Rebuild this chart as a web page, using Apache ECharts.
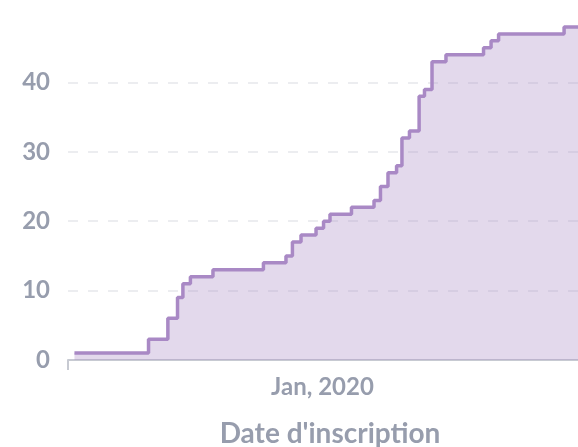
<!DOCTYPE html>
<html>
<head>
<meta charset="utf-8">
<script src="https://cdn.jsdelivr.net/npm/echarts@6/dist/echarts.min.js"></script>
<style>
  html, body { margin: 0; padding: 0; background: #fff; }
  #chart { width: 578px; height: 447px; }
</style>
</head>
<body>
<div id="chart"></div>
<script>
  // dates where the cumulative count changes, and the count reached on that date
  const dates = [
    '2019-05-15', '2019-07-23', '2019-08-10', '2019-08-19', '2019-08-24', '2019-08-31',
    '2019-09-21', '2019-11-07', '2019-11-28', '2019-12-04', '2019-12-12', '2019-12-26',
    '2020-01-02', '2020-01-08', '2020-01-28', '2020-02-18', '2020-02-24', '2020-03-02',
    '2020-03-10', '2020-03-15', '2020-03-22', '2020-03-31', '2020-04-05', '2020-04-12',
    '2020-04-25', '2020-05-30', '2020-06-06', '2020-06-13', '2020-08-13', '2020-09-08'
  ];
  const counts = [
    1, 3, 6, 9, 11, 12,
    13, 14, 15, 17, 18, 19,
    20, 21, 22, 23, 25, 27,
    28, 32, 33, 38, 39, 43,
    44, 45, 46, 47, 48, 48
  ];
  const yTicks = [0, 10, 20, 30, 40];
  const xAxisName = "Date d'inscription";

  const textColor = '#979DAD';
  const lineColor = '#A989C5';

  const chart = echarts.init(document.getElementById('chart'));

  chart.setOption({
    animation: false,
    textStyle: { fontFamily: 'Lato' },
    grid: {
      left: 68,
      right: -14,
      top: 20,
      bottom: 87,
      outerBoundsMode: 'none'
    },
    xAxis: [{
      type: 'time',
      min: '2019-05-09',
      max: '2020-09-08',
      name: xAxisName,
      nameLocation: 'middle',
      nameGap: 60,
      nameTextStyle: {
        fontFamily: 'Lato',
        fontSize: 28,
        fontWeight: 'bold',
        color: textColor
      },
      axisLine: {
        lineStyle: { color: '#C7CAD2', width: 2 }
      },
      axisTick: { show: false },
      splitLine: { show: false },
      axisLabel: {
        margin: 15,
        fontFamily: 'Lato',
        fontSize: 24,
        fontWeight: 'bold',
        color: textColor,
        formatter: (val) => {
          const d = new Date(val);
          if (d.getMonth() === 0 && d.getDate() === 1) {
            return 'Jan, ' + d.getFullYear();
          }
          return '';
        }
      }
    }, {
      // only used for the small tick at the start of the x axis
      type: 'value',
      min: 0,
      max: 1,
      interval: 1,
      position: 'bottom',
      axisLine: { show: false },
      axisTick: {
        show: true,
        length: 10,
        lineStyle: { color: '#C7CAD2', width: 2 }
      },
      axisLabel: { show: false },
      splitLine: { show: false }
    }],
    yAxis: {
      type: 'value',
      min: 0,
      max: 49,
      interval: 10,
      axisLine: { show: false },
      axisTick: { show: false },
      axisLabel: {
        margin: 18,
        showMaxLabel: false,
        fontFamily: 'Lato',
        fontSize: 24,
        fontWeight: 'bold',
        color: textColor,
        formatter: (v) => yTicks.includes(v) ? String(v) : ''
      },
      splitLine: {
        showMaxLine: false,
        lineStyle: {
          color: '#ECEDF0',
          width: 2,
          type: [10, 10]
        }
      }
    },
    series: [{
      type: 'line',
      step: 'end',
      xAxisIndex: 0,
      data: dates.map((d, i) => [d, counts[i]]),
      symbol: 'none',
      lineStyle: { color: lineColor, width: 3.5 },
      areaStyle: { color: lineColor, opacity: 0.32 }
    }]
  });
</script>
</body>
</html>
